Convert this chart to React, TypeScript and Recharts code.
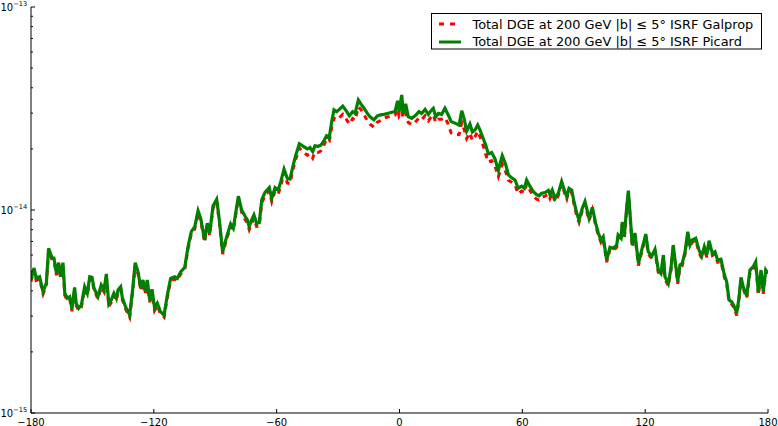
import React from 'react';
import { LineChart, Line, XAxis, YAxis } from 'recharts';

const longitudes = [
  -180, -178.5, -177.5, -175.8, -174.1, -172.5, -171.4, -169.7, -168.8, -167.6,
  -166.5, -165.5, -164.4, -163.5, -162.3, -161.1, -160, -158.7, -157.9, -156.7,
  -155.4, -153.8, -152.5, -151.3, -150.2, -149.2, -147.3, -145.7, -144.3, -143.2,
  -142, -140.8, -139.5, -138.3, -137.5, -136.2, -135.4, -133.9, -131.8, -130.2,
  -129.1, -127.7, -126.4, -125.3, -124.2, -123.2, -122, -120.9, -119.6, -118.3,
  -116.8, -115, -113.4, -111.8, -109.8, -108.5, -106.9, -104.9, -103.3, -101.7,
  -100, -98.4, -97.1, -95.2, -93.9, -92.7, -91.1, -89.3, -88, -86.4,
  -84.4, -82.5, -81.2, -78.7, -77.1, -75.5, -74.3, -73.4, -72.2, -71.1,
  -69.8, -68.5, -67.3, -65.7, -63.6, -62.4, -60.8, -59.2, -58, -56.4,
  -54.8, -53.5, -51.9, -50.6, -48.9, -47, -45, -43.7, -42.4, -41.3,
  -39.7, -38.3, -37.2, -35.6, -34.3, -33.1, -32, -30.7, -29.4, -27.7,
  -26.1, -24.5, -22.9, -21.7, -20.1, -18.9, -17.3, -15.7, -14.4, -12.5,
  -10.8, -9.2, -7.6, -5.9, -3.8, -2.2, -0.9, -0.2, 1.1, 1.8,
  3, 4.3, 6, 7.6, 9.5, 10.8, 12.5, 14.1, 15.4, 16.5,
  17.7, 19, 20.6, 22.2, 23.8, 25.2, 27.1, 29.1, 30.4, 31.7,
  32.8, 34.4, 35.6, 36.9, 38.2, 39.3, 40.9, 42.1, 43.4, 45,
  46.6, 48.3, 50.2, 51.9, 53.2, 54.8, 56.4, 58, 59.7, 61,
  62.1, 63.7, 65.4, 67, 68.1, 69.5, 71.1, 72.7, 73.5, 74.6,
  76, 77.6, 79.2, 80.8, 81.7, 82.8, 84.1, 85.4, 86.6, 87.7,
  89.3, 90.6, 92.6, 94.2, 95.8, 97.1, 98.4, 99.5, 101.2, 102.8,
  104.4, 106.1, 106.8, 108.2, 108.8, 109.8, 111, 111.8, 112.6, 113.7,
  115, 116.7, 118.3, 120.3, 121.5, 123.2, 124.8, 126.4, 127.7, 128.9,
  129.7, 131.3, 132.6, 133.7, 134.6, 135.9, 137, 138.1, 139.5, 140.8,
  141.9, 143, 144.7, 146.3, 147.6, 148.9, 150.1, 151.2, 152.8, 154.1,
  155.4, 157, 158.7, 159.8, 161, 162.3, 163.5, 164.7, 165.8, 166.8,
  167.9, 169.6, 171.2, 172.8, 174, 175.3, 176.6, 177.7, 178.9, 180,
];

const picard = [
  4.56e-15, 5.18e-15, 4.62e-15, 4.69e-15, 3.96e-15, 4.37e-15, 6.47e-15, 5.8e-15, 5.8e-15, 4.89e-15,
  5.5e-15, 4.69e-15, 5.5e-15, 3.9e-15, 3.68e-15, 3.74e-15, 3.25e-15, 4.16e-15, 3.47e-15, 3.28e-15,
  3.4e-15, 4.19e-15, 3.89e-15, 4.69e-15, 4.66e-15, 4.12e-15, 3.74e-15, 4.27e-15, 4.04e-15, 4.84e-15,
  3.44e-15, 3.6e-15, 3.89e-15, 3.67e-15, 4.04e-15, 4.19e-15, 3.71e-15, 3.35e-15, 3.04e-15, 4.19e-15,
  5.5e-15, 4.96e-15, 4.12e-15, 4.52e-15, 3.96e-15, 4.52e-15, 3.6e-15, 4.07e-15, 3.28e-15, 3.47e-15,
  3.16e-15, 3.04e-15, 3.81e-15, 4.6e-15, 4.69e-15, 4.6e-15, 4.96e-15, 5.22e-15, 6.59e-15, 7.82e-15,
  8.28e-15, 9.92e-15, 9.09e-15, 7.12e-15, 8.61e-15, 7.7e-15, 1.047e-14, 1.13e-14, 8.93e-15, 6.23e-15,
  7.39e-15, 8.54e-15, 8.13e-15, 1.17e-14, 1.0e-14, 9.34e-15, 8.93e-15, 8.28e-15, 8.93e-15, 9.45e-15,
  8.61e-15, 8.66e-15, 1.12e-14, 1.22e-14, 1.29e-14, 1.14e-14, 1.29e-14, 1.255e-14, 1.38e-14, 1.59e-14,
  1.43e-14, 1.42e-14, 1.67e-14, 1.87e-14, 2.12e-14, 2.06e-14, 2.0e-14, 2.03e-14, 1.94e-14, 2.07e-14,
  2.06e-14, 2.09e-14, 2.17e-14, 2.32e-14, 2.28e-14, 2.73e-14, 3.11e-14, 3.05e-14, 3.13e-14, 3.25e-14,
  3.085e-14, 2.91e-14, 3.05e-14, 2.99e-14, 3.48e-14, 3.33e-14, 3.17e-14, 2.99e-14, 2.88e-14, 2.78e-14,
  2.91e-14, 2.94e-14, 2.96e-14, 2.99e-14, 3.03e-14, 3.05e-14, 3.45e-14, 3.05e-14, 3.69e-14, 2.99e-14,
  3.33e-14, 2.88e-14, 2.83e-14, 2.91e-14, 3.05e-14, 2.99e-14, 3.13e-14, 2.96e-14, 3.085e-14, 3.17e-14,
  2.88e-14, 2.99e-14, 2.96e-14, 3.17e-14, 2.94e-14, 2.73e-14, 2.68e-14, 2.62e-14, 3.085e-14, 2.78e-14,
  2.445e-14, 2.65e-14, 2.42e-14, 2.48e-14, 2.62e-14, 2.48e-14, 2.25e-14, 2.09e-14, 1.89e-14, 1.92e-14,
  1.79e-14, 1.57e-14, 1.85e-14, 1.67e-14, 1.49e-14, 1.44e-14, 1.405e-14, 1.28e-14, 1.31e-14, 1.28e-14,
  1.405e-14, 1.31e-14, 1.23e-14, 1.19e-14, 1.175e-14, 1.21e-14, 1.22e-14, 1.25e-14, 1.19e-14, 1.255e-14,
  1.14e-14, 1.21e-14, 1.38e-14, 1.23e-14, 1.165e-14, 1.28e-14, 1.255e-14, 1.08e-14, 9.63e-15, 8.93e-15,
  1.02e-14, 1.1e-14, 9.09e-15, 1.03e-14, 8.61e-15, 7.7e-15, 7.12e-15, 7.39e-15, 5.67e-15, 6.55e-15,
  6.47e-15, 6.72e-15, 7.53e-15, 7.26e-15, 8.72e-15, 7.39e-15, 1.04e-14, 1.245e-14, 9.63e-15, 6.72e-15,
  7.7e-15, 5.46e-15, 6.35e-15, 7.61e-15, 6.23e-15, 5.92e-15, 6.4e-15, 5.06e-15, 4.87e-15, 6.0e-15,
  4.69e-15, 4.34e-15, 5.16e-15, 6.72e-15, 5.67e-15, 4.44e-15, 5.36e-15, 5.46e-15, 6.23e-15, 7.82e-15,
  6.72e-15, 7.12e-15, 7.26e-15, 6.35e-15, 5.92e-15, 6.59e-15, 6.0e-15, 7.06e-15, 6.12e-15, 6.23e-15,
  5.67e-15, 5.72e-15, 4.78e-15, 4.44e-15, 3.6e-15, 3.53e-15, 3.35e-15, 3.1e-15, 3.67e-15, 4.66e-15,
  4.19e-15, 3.77e-15, 5.06e-15, 5.26e-15, 5.56e-15, 3.92e-15, 5.06e-15, 3.96e-15, 5.06e-15, 4.87e-15,
];

const galprop = [
  4.45e-15, 5.05e-15, 4.5e-15, 4.57e-15, 3.86e-15, 4.26e-15, 6.31e-15, 5.66e-15, 5.66e-15, 4.77e-15,
  5.36e-15, 4.57e-15, 5.36e-15, 3.8e-15, 3.59e-15, 3.65e-15, 3.17e-15, 4.06e-15, 3.38e-15, 3.2e-15,
  3.32e-15, 4.09e-15, 3.79e-15, 4.57e-15, 4.54e-15, 4.02e-15, 3.65e-15, 4.16e-15, 3.94e-15, 4.72e-15,
  3.35e-15, 3.51e-15, 3.79e-15, 3.58e-15, 3.94e-15, 4.09e-15, 3.62e-15, 3.27e-15, 2.96e-15, 4.09e-15,
  5.36e-15, 4.84e-15, 4.02e-15, 4.41e-15, 3.86e-15, 4.41e-15, 3.51e-15, 3.97e-15, 3.2e-15, 3.38e-15,
  3.08e-15, 2.96e-15, 3.71e-15, 4.49e-15, 4.57e-15, 4.49e-15, 4.84e-15, 5.09e-15, 6.43e-15, 7.62e-15,
  8.07e-15, 9.67e-15, 8.86e-15, 6.94e-15, 8.39e-15, 7.51e-15, 1.02e-14, 1.1e-14, 8.71e-15, 6.07e-15,
  7.21e-15, 8.33e-15, 7.93e-15, 1.14e-14, 9.75e-15, 9.0e-15, 8.6e-15, 8.0e-15, 8.6e-15, 9.1e-15,
  8.3e-15, 8.35e-15, 1.08e-14, 1.18e-14, 1.24e-14, 1.1e-14, 1.24e-14, 1.2e-14, 1.32e-14, 1.53e-14,
  1.36e-14, 1.35e-14, 1.6e-14, 1.79e-14, 2.02e-14, 1.93e-14, 1.86e-14, 1.89e-14, 1.8e-14, 1.93e-14,
  1.92e-14, 1.96e-14, 2.06e-14, 2.23e-14, 2.19e-14, 2.56e-14, 2.83e-14, 2.78e-14, 2.85e-14, 2.96e-14,
  2.81e-14, 2.65e-14, 2.82e-14, 2.77e-14, 3.22e-14, 3.13e-14, 2.95e-14, 2.75e-14, 2.65e-14, 2.56e-14,
  2.71e-14, 2.76e-14, 2.84e-14, 2.87e-14, 2.91e-14, 2.93e-14, 3.15e-14, 2.9e-14, 3.05e-14, 2.84e-14,
  3.0e-14, 2.7e-14, 2.63e-14, 2.7e-14, 2.84e-14, 2.78e-14, 2.91e-14, 2.75e-14, 2.87e-14, 2.95e-14,
  2.7e-14, 2.8e-14, 2.8e-14, 2.85e-14, 2.65e-14, 2.4e-14, 2.36e-14, 2.35e-14, 2.7e-14, 2.47e-14,
  2.25e-14, 2.4e-14, 2.2e-14, 2.3e-14, 2.44e-14, 2.3e-14, 2.07e-14, 1.88e-14, 1.72e-14, 1.75e-14,
  1.65e-14, 1.46e-14, 1.68e-14, 1.54e-14, 1.4e-14, 1.37e-14, 1.33e-14, 1.2e-14, 1.24e-14, 1.22e-14,
  1.34e-14, 1.25e-14, 1.17e-14, 1.13e-14, 1.12e-14, 1.16e-14, 1.17e-14, 1.2e-14, 1.14e-14, 1.21e-14,
  1.1e-14, 1.18e-14, 1.34e-14, 1.2e-14, 1.135e-14, 1.25e-14, 1.22e-14, 1.05e-14, 9.35e-15, 8.7e-15,
  9.95e-15, 1.07e-14, 8.86e-15, 1.0e-14, 8.39e-15, 7.51e-15, 6.94e-15, 7.21e-15, 5.53e-15, 6.39e-15,
  6.31e-15, 6.55e-15, 7.34e-15, 7.08e-15, 8.5e-15, 7.21e-15, 1.01e-14, 1.21e-14, 9.39e-15, 6.55e-15,
  7.51e-15, 5.32e-15, 6.19e-15, 7.42e-15, 6.07e-15, 5.77e-15, 6.24e-15, 4.93e-15, 4.75e-15, 5.85e-15,
  4.57e-15, 4.23e-15, 5.03e-15, 6.55e-15, 5.53e-15, 4.33e-15, 5.23e-15, 5.32e-15, 6.07e-15, 7.62e-15,
  6.55e-15, 6.94e-15, 7.08e-15, 6.19e-15, 5.77e-15, 6.43e-15, 5.85e-15, 6.88e-15, 5.97e-15, 6.07e-15,
  5.53e-15, 5.58e-15, 4.66e-15, 4.33e-15, 3.51e-15, 3.44e-15, 3.27e-15, 3.02e-15, 3.58e-15, 4.54e-15,
  4.09e-15, 3.68e-15, 4.93e-15, 5.13e-15, 5.42e-15, 3.82e-15, 4.93e-15, 3.86e-15, 4.93e-15, 4.75e-15,
];

const xTicks = [-180, -120, -60, 0, 60, 120, 180];
const yMajorTicks = [1e-15, 1e-14, 1e-13];
const yMinorTicks = [
  2e-15, 3e-15, 4e-15, 5e-15, 6e-15, 7e-15, 8e-15, 9e-15,
  2e-14, 3e-14, 4e-14, 5e-14, 6e-14, 7e-14, 8e-14, 9e-14,
];
const seriesLabels = [
  'Total DGE at 200 GeV |b| \u2264 5\u00b0 ISRF Galprop',
  'Total DGE at 200 GeV |b| \u2264 5\u00b0 ISRF Picard',
];

const data = longitudes.map((l, i) => ({ l, galprop: galprop[i], picard: picard[i] }));
const yTicks = [...yMajorTicks, ...yMinorTicks].sort((a, b) => a - b);

const FONT = '"DejaVu Sans", sans-serif';
const TICK = '#000';
const fmtX = (v: number) => (v < 0 ? `\u2212${Math.abs(v)}` : `${v}`);
const isMajor = (v: number) => yMajorTicks.indexOf(v) >= 0;

function BottomTick(props: any) {
  const { x, y, payload } = props;
  return (
    <g>
      <line x1={x} y1={y} x2={x} y2={y - 4} stroke={TICK} strokeWidth={1} />
      <text x={x} y={y + 12.5} textAnchor="middle" fontSize={10} fontFamily={FONT} fill="#000">
        {fmtX(payload.value)}
      </text>
    </g>
  );
}

function TopTick(props: any) {
  const { x, y } = props;
  return <line x1={x} y1={y} x2={x} y2={y + 4} stroke={TICK} strokeWidth={1} />;
}

function LeftTick(props: any) {
  const { x, y, payload } = props;
  const major = isMajor(payload.value);
  const len = major ? 4 : 2;
  const exp = Math.round(Math.log10(payload.value));
  return (
    <g>
      <line x1={x} y1={y} x2={x + len} y2={y} stroke={TICK} strokeWidth={1} />
      {major && (
        <text x={x - 30.5} y={y + 3.8} textAnchor="start" fontFamily={FONT} fill="#000">
          <tspan fontSize={10}>10</tspan>
          <tspan fontSize={6.6} dy={-5}>{`\u2212${Math.abs(exp)}`}</tspan>
        </text>
      )}
    </g>
  );
}

function RightTick(props: any) {
  const { x, y, payload } = props;
  const len = isMajor(payload.value) ? 4 : 2;
  return <line x1={x} y1={y} x2={x - len} y2={y} stroke={TICK} strokeWidth={1} />;
}

export default function App() {
  return (
    <div style={{ position: 'absolute', left: 0, top: 0, width: 778, height: 426, background: '#fff' }}>
      <LineChart width={778} height={426} data={data} margin={{ top: 7, right: 10, bottom: 0, left: 0 }}>
        <XAxis
          xAxisId="bottom"
          dataKey="l"
          type="number"
          domain={[-180, 180]}
          ticks={xTicks}
          interval={0}
          height={13}
          tickSize={0}
          tickMargin={0}
          tickLine={false}
          axisLine={{ stroke: '#000', strokeWidth: 1 }}
          tick={BottomTick}
          allowDataOverflow
        />
        <XAxis
          xAxisId="top"
          orientation="top"
          dataKey="l"
          type="number"
          domain={[-180, 180]}
          ticks={xTicks}
          interval={0}
          height={0}
          tickSize={0}
          tickMargin={0}
          tickLine={false}
          axisLine={{ stroke: '#000', strokeWidth: 1 }}
          tick={TopTick}
          allowDataOverflow
        />
        <YAxis
          yAxisId="left"
          type="number"
          scale="log"
          domain={[1e-15, 1e-13]}
          ticks={yTicks}
          interval={0}
          width={31}
          tickSize={0}
          tickMargin={0}
          tickLine={false}
          axisLine={{ stroke: '#000', strokeWidth: 1 }}
          tick={LeftTick}
          allowDataOverflow
        />
        <YAxis
          yAxisId="right"
          orientation="right"
          type="number"
          scale="log"
          domain={[1e-15, 1e-13]}
          ticks={yTicks}
          interval={0}
          width={0}
          tickSize={0}
          tickMargin={0}
          tickLine={false}
          axisLine={{ stroke: '#000', strokeWidth: 1 }}
          tick={RightTick}
          allowDataOverflow
        />
        <Line
          xAxisId="bottom"
          yAxisId="left"
          type="linear"
          dataKey="galprop"
          stroke="#ff0000"
          strokeWidth={3}
          strokeDasharray="5 5"
          dot={false}
          activeDot={false}
          isAnimationActive={false}
        />
        <Line
          xAxisId="bottom"
          yAxisId="left"
          type="linear"
          dataKey="picard"
          stroke="#008000"
          strokeWidth={3.2}
          dot={false}
          activeDot={false}
          isAnimationActive={false}
        />
      </LineChart>
      <svg
        width={778}
        height={426}
        style={{ position: 'absolute', left: 0, top: 0, pointerEvents: 'none' }}
      >
        <rect x={431.5} y={13.5} width={330} height={35.5} fill="#fff" stroke="#000" strokeWidth={1} />
        <line x1={439} y1={24} x2={461} y2={24} stroke="#ff0000" strokeWidth={3} strokeDasharray="5 6" />
        <line x1={439} y1={42} x2={461} y2={42} stroke="#008000" strokeWidth={3} />
        <text x={472.5} y={28.7} fontSize={12.9} fontFamily={FONT} fill="#000">
          {seriesLabels[0]}
        </text>
        <text x={472.5} y={46.4} fontSize={12.9} fontFamily={FONT} fill="#000">
          {seriesLabels[1]}
        </text>
      </svg>
    </div>
  );
}
